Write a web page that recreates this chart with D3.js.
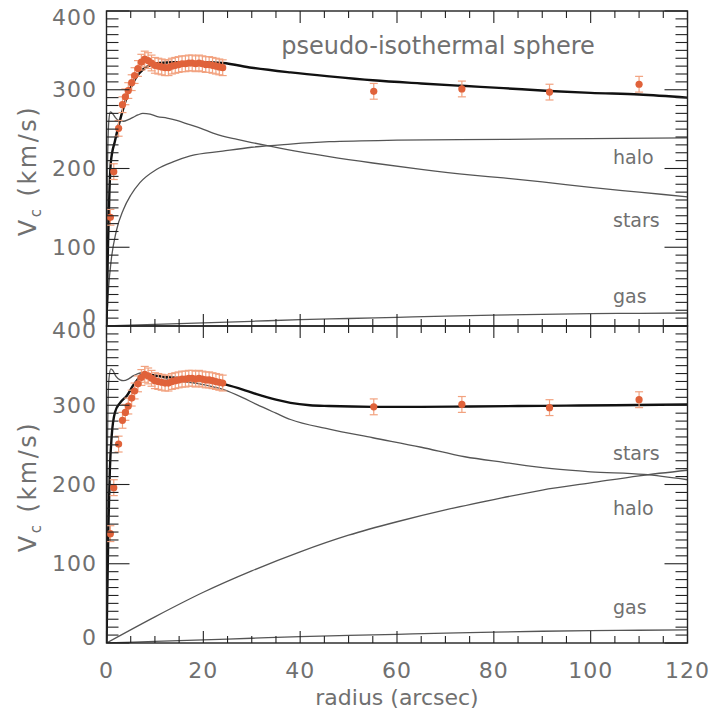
<!DOCTYPE html>
<html>
<head>
<meta charset="utf-8">
<script src="https://cdn.jsdelivr.net/npm/d3@7"></script>
<style>
  html, body { margin: 0; padding: 0; background: #fff; }
  svg { display: block; }
  text { font-family: "DejaVu Sans", sans-serif; fill: #707070; }
</style>
</head>
<body>
<script>
// Observed rotation curve (arcsec, km/s) — shown in both panels
const obsRadius = [0.8, 1.5, 2.5, 3.3, 3.9, 4.5, 5.2, 5.8, 6.5, 7.2, 7.9, 8.6, 9.3, 10.0, 10.7, 11.4, 12.1, 12.8, 13.5, 14.2, 14.9, 15.6, 16.3, 17.0, 17.7, 18.4, 19.1, 19.8, 20.5, 21.2, 21.9, 22.6, 23.3, 24.0, 55.2, 73.4, 91.5, 110.0];
const obsVel    = [138, 196, 251, 281, 291, 299, 309, 318, 327, 335, 339, 337, 334, 331, 330, 329, 328, 328, 330, 331, 332, 333, 333, 334, 334, 333, 334, 333, 332, 332, 331, 330, 329, 328, 298, 301, 297, 307];
const obsErr    = [10, 10, 10, 10, 10, 10, 10, 10, 10, 10, 10, 10, 10, 10, 10, 10, 10, 10, 10, 10, 10, 10, 10, 10, 10, 10, 10, 10, 10, 10, 10, 10, 10, 10, 10, 10, 10, 10];

// Pseudo-isothermal sphere fit (top panel)
const isoTotalR = [0, 0.3, 0.6, 0.9, 1.75, 2.6, 3.5, 4.5, 5.5, 6.5, 7.6, 9.3, 11, 14, 20, 24, 30, 38, 46, 55, 65, 73.4, 82, 91.5, 100, 110, 120];
const isoTotalV = [0, 100, 170, 208, 235, 257, 277, 296, 309, 319, 326, 332, 334, 335, 335, 334, 328, 322, 317, 312, 308, 305, 302, 298.5, 296, 294, 290];
const isoStarsR = [0, 0.2, 0.5, 0.8, 1.2, 1.8, 2.5, 3.5, 4.5, 5.5, 6.5, 7.5, 9, 10.5, 12.5, 14.5, 17, 19.5, 22, 24, 27, 30, 34, 40, 46, 55, 65, 75, 82, 90, 100, 110, 120];
const isoStarsV = [0, 200, 262, 272, 270, 265, 261, 260, 262, 265, 268, 270, 269, 266, 264, 261, 256, 251, 245, 241, 237, 233, 228, 221, 215, 207, 199, 192, 188, 183, 176, 170, 164];
const isoHaloR  = [0, 0.4, 1, 2, 3.5, 5, 6.9, 10.4, 14, 17.3, 24, 30, 38, 46, 60, 82, 100, 120];
const isoHaloV  = [0, 46, 85, 120, 148, 166, 182, 199, 209, 216, 222, 227, 231, 234, 236, 237, 238, 239];

// Alternative halo fit (bottom panel)
const altTotalR = [0, 0.4, 0.7, 1.07, 1.75, 2.8, 4.2, 5.5, 6.5, 7.3, 8.5, 10.4, 13.5, 17.3, 20, 24.1, 28, 31, 35, 38, 42, 46, 55, 65, 75, 85, 95, 105, 120];
const altTotalV = [0, 150, 220, 261, 291, 303, 312, 325, 333, 339, 339, 337, 335, 333, 331, 327, 320, 314, 307, 303, 300, 299, 298, 298, 298.5, 299, 299.5, 300, 301];
const altStarsR = [0, 0.2, 0.5, 0.9, 1.3, 2, 2.8, 3.5, 4.5, 5.5, 6.5, 7.3, 8.5, 10.5, 13.8, 17, 20, 24, 28, 31, 35, 38, 46, 55, 65, 74, 82, 92, 100, 111, 120];
const altStarsV = [0, 250, 333, 346, 344, 336, 332, 331, 333, 337, 340, 341, 340, 337, 331, 329, 326, 320, 310, 301, 290, 282, 270, 259, 247, 235, 228, 220, 216, 212.7, 206];
const altHaloR  = [0, 10, 20, 30, 40, 50, 60, 70, 80, 90, 100, 110, 120];
const altHaloV  = [0, 33, 64, 91, 115, 136, 153, 168, 181, 193, 202, 211, 218];

// Gas contribution (same in both panels)
const gasR = [0, 10, 20, 30, 40, 50, 60, 70, 80, 90, 100, 110, 120];
const gasV = [0, 2, 4, 6, 8, 9.5, 11, 12.5, 13.8, 14.8, 15.6, 16.1, 16.5];

// Axis ranges and ticks
const xDomain = [0, 120];
const yDomain = [0, 400];
const xMajorTicks = [0, 20, 40, 60, 80, 100, 120];
const yMajorTicks = [0, 100, 200, 300, 400];

const W = 712, H = 717;
const svg = d3.select("body").append("svg").attr("width", W).attr("height", H);

const x = d3.scaleLinear().domain(xDomain).range([106.5, 687.5]);

const panels = [
  {
    y: d3.scaleLinear().domain(yDomain).range([326, 11]),
    total: [isoTotalR, isoTotalV],
    comps: [[isoStarsR, isoStarsV], [isoHaloR, isoHaloV], [gasR, gasV]],
    labels: [["halo", 215], ["stars", 135], ["gas", 38]],
    nudgeTop: 6, nudgeBottom: -9,
    title: "pseudo-isothermal sphere"
  },
  {
    y: d3.scaleLinear().domain(yDomain).range([643, 326]),
    total: [altTotalR, altTotalV],
    comps: [[altStarsR, altStarsV], [altHaloR, altHaloV], [gasR, gasV]],
    labels: [["stars", 240], ["halo", 170], ["gas", 46]],
    nudgeTop: 4, nudgeBottom: -6,
    title: null
  }
];

const minorX = d3.range(0, 121, 5).filter(v => v % 20 !== 0);
const minorY = d3.range(0, 401, 10).filter(v => v % 100 !== 0);

panels.forEach((p, pi) => {
  const g = svg.append("g");
  const y = p.y;
  const [x0, x1] = x.range();
  const [yb, yt] = y.range();

  const clipId = "clip" + pi;
  svg.append("clipPath").attr("id", clipId)
    .append("rect").attr("x", x0).attr("y", yt).attr("width", x1 - x0).attr("height", yb - yt);

  const line = d3.line().x(d => x(d[0])).y(d => y(d[1])).curve(d3.curveMonotoneX);
  const zipPts = (rs, vs) => rs.map((r, i) => [r, vs[i]]);

  const curves = g.append("g").attr("clip-path", `url(#${clipId})`);
  p.comps.forEach(c => {
    curves.append("path").attr("d", line(zipPts(c[0], c[1])))
      .attr("fill", "none").attr("stroke", "#555").attr("stroke-width", 1.3);
  });
  curves.append("path").attr("d", line(zipPts(p.total[0], p.total[1])))
    .attr("fill", "none").attr("stroke", "#111").attr("stroke-width", 2.4);

  // error bars and points
  const obs = obsRadius.map((r, i) => ({ r, v: obsVel[i], e: obsErr[i] }));
  const eb = g.append("g").attr("stroke", "#f2a27f").attr("stroke-width", 1.2);
  obs.forEach(d => {
    const cx = x(d.r), yHi = y(d.v + d.e), yLo = y(d.v - d.e);
    eb.append("line").attr("x1", cx).attr("x2", cx).attr("y1", yHi).attr("y2", yLo);
    eb.append("line").attr("x1", cx - 4).attr("x2", cx + 4).attr("y1", yHi).attr("y2", yHi);
    eb.append("line").attr("x1", cx - 4).attr("x2", cx + 4).attr("y1", yLo).attr("y2", yLo);
  });
  g.append("g").selectAll("circle").data(obs).join("circle")
    .attr("cx", d => x(d.r)).attr("cy", d => y(d.v)).attr("r", 3.6)
    .attr("fill", "#e0623a");

  // frame
  g.append("rect").attr("x", x0).attr("y", yt).attr("width", x1 - x0).attr("height", yb - yt)
    .attr("fill", "none").attr("stroke", "#222").attr("stroke-width", 1.4);

  // ticks
  const tk = g.append("g").attr("stroke", "#222").attr("stroke-width", 1.1);
  xMajorTicks.forEach(v => {
    tk.append("line").attr("x1", x(v)).attr("x2", x(v)).attr("y1", yb).attr("y2", yb - 12);
    tk.append("line").attr("x1", x(v)).attr("x2", x(v)).attr("y1", yt).attr("y2", yt + 12);
  });
  minorX.forEach(v => {
    tk.append("line").attr("x1", x(v)).attr("x2", x(v)).attr("y1", yb).attr("y2", yb - 7);
    tk.append("line").attr("x1", x(v)).attr("x2", x(v)).attr("y1", yt).attr("y2", yt + 7);
  });
  yMajorTicks.forEach(v => {
    tk.append("line").attr("x1", x0).attr("x2", x0 + 23).attr("y1", y(v)).attr("y2", y(v));
    tk.append("line").attr("x1", x1).attr("x2", x1 - 23).attr("y1", y(v)).attr("y2", y(v));
  });
  minorY.forEach(v => {
    tk.append("line").attr("x1", x0).attr("x2", x0 + 12).attr("y1", y(v)).attr("y2", y(v));
    tk.append("line").attr("x1", x1).attr("x2", x1 - 12).attr("y1", y(v)).attr("y2", y(v));
  });

  // y tick labels
  yMajorTicks.forEach(v => {
    let dy = 0;
    if (v === yDomain[1]) dy = p.nudgeTop;
    if (v === yDomain[0]) dy = p.nudgeBottom;
    g.append("text").attr("x", 97).attr("y", y(v) + dy)
      .attr("text-anchor", "end").attr("dominant-baseline", "central")
      .attr("font-size", 22).attr("letter-spacing", 1).text(v);
  });

  // y axis title
  const yt2 = g.append("text")
    .attr("transform", `translate(36,${(yt + yb) / 2 + 2}) rotate(-90)`)
    .attr("text-anchor", "middle").attr("font-size", 24).attr("letter-spacing", 2.5);
  yt2.append("tspan").text("V");
  yt2.append("tspan").attr("font-size", 15).attr("dy", 5).text("c");
  yt2.append("tspan").attr("dy", -5).text(" (km/s)");

  // component labels
  p.labels.forEach(([t, v]) => {
    g.append("text").attr("x", 613).attr("y", y(v))
      .attr("dominant-baseline", "central").attr("font-size", 19).text(t);
  });

  if (p.title) {
    g.append("text").attr("x", 438).attr("y", y(355))
      .attr("text-anchor", "middle").attr("dominant-baseline", "central")
      .attr("font-size", 24).text(p.title);
  }
});

// x tick labels and title
const yBottom = panels[1].y.range()[0];
xMajorTicks.forEach(v => {
  svg.append("text").attr("x", x(v)).attr("y", yBottom + 27)
    .attr("text-anchor", "middle").attr("dominant-baseline", "central")
    .attr("font-size", 22).attr("letter-spacing", 1).text(v);
});
svg.append("text").attr("x", 397).attr("y", yBottom + 54)
  .attr("text-anchor", "middle").attr("dominant-baseline", "central")
  .attr("font-size", 22).text("radius (arcsec)");
</script>
</body>
</html>
